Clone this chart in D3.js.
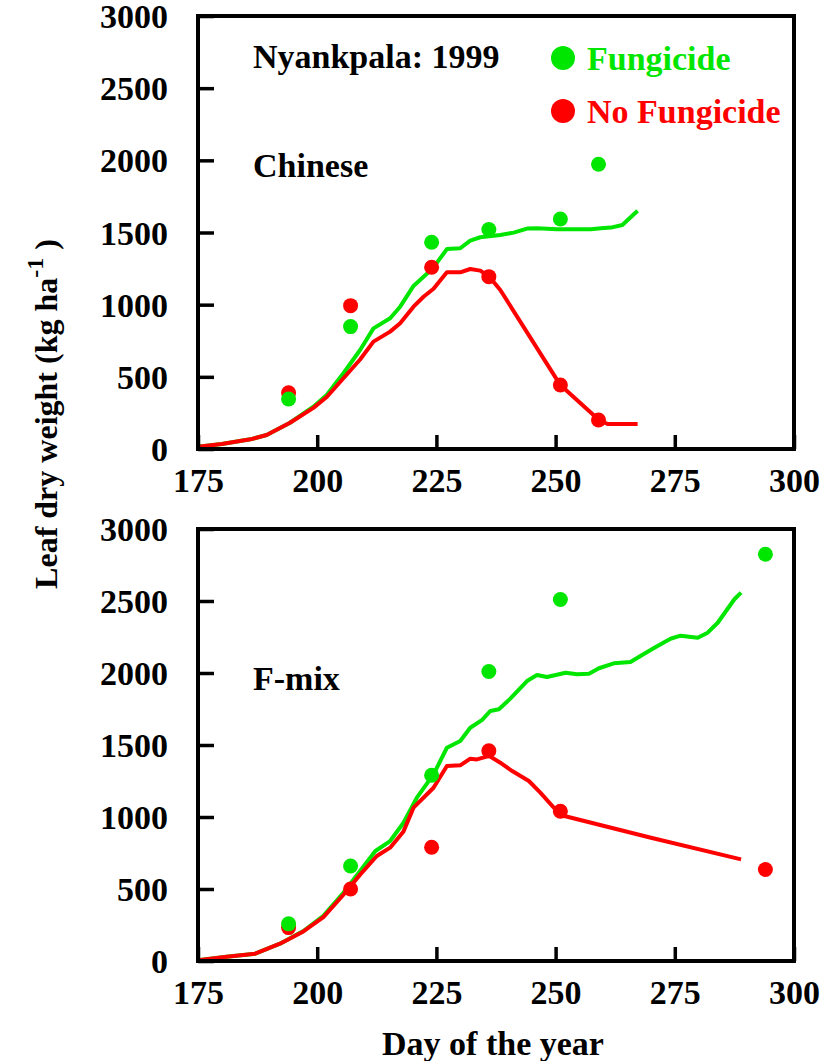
<!DOCTYPE html>
<html><head><meta charset="utf-8">
<script src="https://cdn.jsdelivr.net/npm/d3@7"></script>
<style>body{margin:0;background:#fff}svg{display:block}text{font-family:"Liberation Serif","Times New Roman",serif;font-weight:bold}</style>
</head><body>
<svg id="c" width="835" height="1061"></svg>
<script>
const xTicks = [175, 200, 225, 250, 275, 300];
const yTicks = [0, 500, 1000, 1500, 2000, 2500, 3000];
const sampleDays = [194, 207, 224, 236, 251, 259];
const sampleDaysFmix = [194, 207, 224, 236, 251, 294];
const chineseFungPts = [346, 848, 1432, 1521, 1594, 1973];
const chineseNoFungPts = [390, 993, 1259, 1194, 443, 201];
const fmixFungPts = [258, 660, 1290, 2010, 2510, 2825];
const fmixNoFungPts = [232, 500, 790, 1460, 1040, 635];
const chineseFungLine = [[175,16],[180,35],[186,67],[189.4,97],[194.3,182],[199.2,293],[202,374],[205.5,525],[209,686],[211.8,836],[215.3,906],[217.4,986],[220.2,1130],[224.2,1250],[227.2,1385],[230,1391],[232.1,1444],[234.2,1467],[238.4,1483],[241.2,1499],[244,1527],[246.1,1529],[250.3,1522],[257.4,1522],[259.5,1529],[261.6,1534],[264,1552],[267.2,1651]];
const chineseNoFungLine = [[175,16],[180,35],[186,67],[189.4,97],[194.3,182],[199.2,285],[202,360],[205.5,490],[209,620],[211.8,744],[215.3,813],[217.4,871],[220.2,986],[222.3,1055],[224.4,1110],[227.2,1224],[230,1224],[232.1,1247],[234.2,1236],[236.1,1194],[238.4,1102],[251,443],[259.1,201],[260.9,173],[267.2,173]];
const fmixFungLine = [[175,5],[181,30],[187,51],[192.2,120],[197.1,208],[201.3,313],[205.5,474],[209,625],[212.2,764],[215.3,833],[218.1,960],[220.9,1134],[224.4,1296],[227.2,1481],[230,1528],[232.1,1620],[234.6,1674],[236.3,1736],[238.1,1748],[240.5,1822],[244,1944],[246.1,1986],[248.2,1972],[252.1,2002],[254.5,1991],[257,1995],[259.1,2033],[262.2,2067],[265.7,2076],[267.8,2118],[271,2181],[274.1,2238],[276.2,2259],[279.8,2245],[281.9,2280],[284,2349],[287.5,2512],[288.9,2558]];
const fmixNoFungLine = [[175,5],[181,30],[187,51],[192.2,120],[197.1,205],[201.3,305],[205.5,460],[209,600],[212.5,729],[215.3,787],[218.1,900],[220.2,1065],[224.4,1203],[227.2,1354],[230,1359],[232.1,1405],[233.5,1400],[236.1,1424],[238.4,1377],[240.9,1319],[244.4,1250],[246.8,1169],[251,1014],[270,856],[288.9,706]];
const seriesNames = ["Fungicide", "No Fungicide"];
const colors = ["#00e600", "#ff0000"];

const svg = d3.select("#c");
const FS = 34;
const left = 198, right = 794;

function panel(top, bottom, days, fungPts, noFungPts, fungLine, noFungLine, label) {
  const x = d3.scaleLinear().domain([175, 300]).range([left, right]);
  const y = d3.scaleLinear().domain([0, 3000]).range([bottom, top]);
  const g = svg.append("g");
  const line = d3.line().x(d => x(d[0])).y(d => y(d[1]));
  [fungLine, noFungLine].forEach((ln, i) => {
    g.append("path").datum(ln).attr("d", line).attr("fill", "none")
      .attr("stroke", colors[i]).attr("stroke-width", 4).attr("stroke-linejoin", "round");
  });
  [noFungPts, fungPts].forEach((pts, k) => {
    const i = k === 0 ? 1 : 0;
    g.selectAll(null).data(pts).enter().append("circle")
      .attr("cx", (d, j) => x(days[j])).attr("cy", d => y(d)).attr("r", 7.5)
      .attr("fill", colors[i]);
  });
  const xa = g.append("g").attr("transform", `translate(0,${bottom})`)
    .call(d3.axisBottom(x).tickValues(xTicks).tickFormat(d3.format("d")).tickSizeInner(-14).tickSizeOuter(0).tickPadding(20));
  const ya = g.append("g").attr("transform", `translate(${left},0)`)
    .call(d3.axisLeft(y).tickValues(yTicks).tickFormat(d3.format("d")).tickSizeInner(-16).tickSizeOuter(0).tickPadding(30));
  [xa, ya].forEach(a => {
    a.select(".domain").remove();
    a.selectAll("line").attr("stroke", "#000").attr("stroke-width", 3.5);
    a.selectAll("text").attr("font-size", FS).attr("fill", "#000")
      .style("font-family", '"Liberation Serif",serif').style("font-weight", "bold");
  });
  xa.selectAll("text").attr("dy", "0.68em");
  ya.selectAll("text").attr("dy", "0.34em");
  g.append("rect").attr("x", left).attr("y", top).attr("width", right - left).attr("height", bottom - top)
    .attr("fill", "none").attr("stroke", "#000").attr("stroke-width", 4);
  g.append("text").attr("x", 253).attr("y", label.y).attr("font-size", FS).text(label.text);
  return {x, y};
}

panel(16, 449, sampleDays, chineseFungPts, chineseNoFungPts, chineseFungLine, chineseNoFungLine, {text: "Chinese", y: 177});
panel(529, 961, sampleDaysFmix, fmixFungPts, fmixNoFungPts, fmixFungLine, fmixNoFungLine, {text: "F-mix", y: 690});

svg.append("text").attr("x", 253).attr("y", 68).attr("font-size", FS).text("Nyankpala: 1999");
seriesNames.forEach((n, i) => {
  const yy = [58, 111][i];
  svg.append("circle").attr("cx", 563).attr("cy", yy).attr("r", 12).attr("fill", colors[i]);
  svg.append("text").attr("x", 587).attr("y", yy + 12).attr("font-size", FS).attr("fill", colors[i]).text(n);
});

svg.append("text").attr("x", 493).attr("y", 1055).attr("text-anchor", "middle").attr("font-size", FS).text("Day of the year");
const yt = svg.append("text").attr("transform", "translate(57,414) rotate(-90)").attr("text-anchor", "middle").attr("font-size", 32);
yt.append("tspan").text("Leaf dry weight (kg ha");
yt.append("tspan").attr("dy", -14).attr("font-size", 24).text("-1");
yt.append("tspan").attr("dy", 14).text(" )");
</script>
</body></html>
